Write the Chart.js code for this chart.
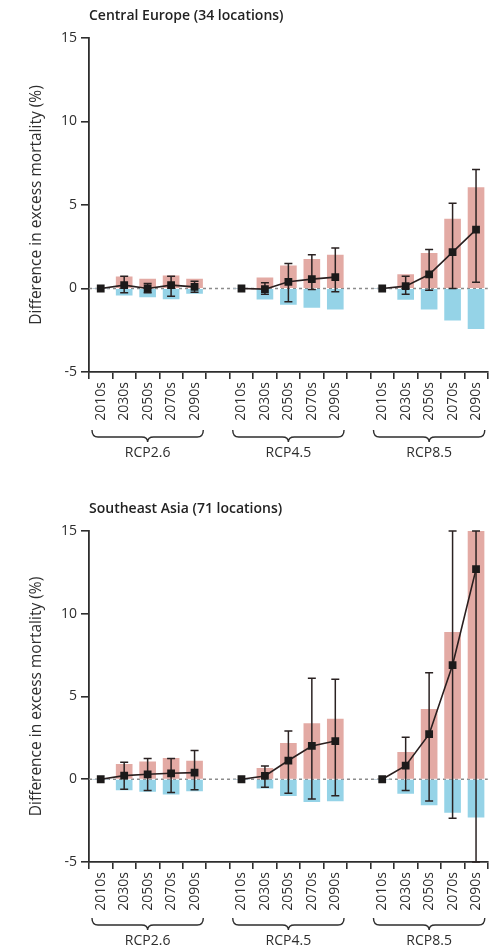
<!DOCTYPE html>
<html>
<head>
<meta charset="utf-8">
<script src="https://cdn.jsdelivr.net/npm/chart.js@4.4.0/dist/chart.umd.min.js"></script>
<style>
    body { margin: 0; background: #fff; width: 496px; height: 948px; overflow: hidden; }
    .panel { position: relative; width: 496px; }
    #p1 { height: 490px; }
    #p2 { height: 458px; }
</style>
</head>
<body>
<div class="panel" id="p1"><canvas id="ce"></canvas></div>
<div class="panel" id="p2"><canvas id="se"></canvas></div>
<script>
// decades shown under each scenario, blank slot between groups
const decades = ['2010s', '2030s', '2050s', '2070s', '2090s'];
const scenarios = ['RCP2.6', 'RCP4.5', 'RCP8.5'];
const yTicks = [-5, 0, 5, 10, 15];

// Central Europe (34 locations): per scenario, one value per decade
const ceMean = [[0, 0.2, 0, 0.2, 0.1], [0, -0.04, 0.4, 0.56, 0.68], [0, 0.14, 0.84, 2.18, 3.53]];
const ceLow  = [[null, -0.26, -0.26, -0.46, -0.22], [null, -0.34, -0.8, -0.06, -0.2], [null, -0.35, -0.1, 0, 0.38]];
const ceHigh = [[null, 0.74, 0.3, 0.74, 0.44], [null, 0.34, 1.5, 2.02, 2.42], [null, 0.73, 2.33, 5.1, 7.12]];
const cePos  = [[0, 0.7, 0.56, 0.76, 0.56], [0, 0.64, 1.36, 1.74, 2.0], [0, 0.84, 2.1, 4.15, 6.05]];
const ceNeg  = [[0, -0.4, -0.5, -0.62, -0.3], [0, -0.64, -0.96, -1.14, -1.24], [0, -0.65, -1.24, -1.9, -2.41]];

// Southeast Asia (71 locations)
const seMean = [[0, 0.22, 0.3, 0.36, 0.4], [0, 0.2, 1.13, 2.01, 2.31], [0, 0.82, 2.72, 6.9, 12.7]];
const seLow  = [[null, -0.6, -0.68, -0.8, -0.64], [null, -0.48, -0.85, -1.19, -0.99], [null, -0.68, -1.31, -2.35, -5]];
const seHigh = [[null, 1.02, 1.26, 1.26, 1.74], [null, 0.8, 2.92, 6.1, 6.04], [null, 2.54, 6.44, 15, 15]];
const sePos  = [[0, 0.9, 1.06, 1.26, 1.1], [0, 0.66, 2.17, 3.36, 3.64], [0, 1.63, 4.23, 8.88, 15]];
const seNeg  = [[0, -0.64, -0.74, -0.9, -0.7], [0, -0.54, -0.99, -1.35, -1.31], [0, -0.85, -1.55, -2.01, -2.29]];

const FONT = '"Open Sans", "DejaVu Sans", sans-serif';
const INK = '#2e2e2e';

// put the three groups side by side with an empty slot between them
const flat = (groups) => {
    const out = [];
    groups.forEach((g, i) => {
        if (i > 0) out.push(null);
        out.push(...g);
    });
    return out;
}
const labels = flat(scenarios.map(() => decades)).map(l => l === null ? '' : l);

const decor = {
    id: 'decor',
    beforeDatasetsDraw(chart) {
        // dashed zero line
        const { ctx, chartArea, scales } = chart;
        const y = scales.y.getPixelForValue(0);
        ctx.save();
        ctx.strokeStyle = '#8c8c8c';
        ctx.lineWidth = 1.5;
        ctx.setLineDash([3, 3]);
        ctx.beginPath();
        ctx.moveTo(chartArea.left, y);
        ctx.lineTo(chartArea.right, y);
        ctx.stroke();
        ctx.restore();
    },
    beforeDatasetDraw(chart, args, opts) {
        // error bars go under the line and its markers
        if (args.index !== 2) return;
        const { ctx, chartArea, scales } = chart;
        const pts = chart.getDatasetMeta(2).data;
        ctx.save();
        ctx.beginPath();
        ctx.rect(chartArea.left, chartArea.top - 1, chartArea.right - chartArea.left, chartArea.bottom - chartArea.top + 2);
        ctx.clip();
        ctx.strokeStyle = '#2a2222';
        ctx.lineWidth = 1.5;
        opts.low.forEach((lo, i) => {
            const hi = opts.high[i];
            if (lo === null || hi === null) return;
            const x = pts[i].x;
            const y0 = scales.y.getPixelForValue(lo);
            const y1 = scales.y.getPixelForValue(hi);
            ctx.beginPath();
            ctx.moveTo(x, y0); ctx.lineTo(x, y1);
            ctx.moveTo(x - 4, y0); ctx.lineTo(x + 4, y0);
            ctx.moveTo(x - 4, y1); ctx.lineTo(x + 4, y1);
            ctx.stroke();
        });
        ctx.restore();
    },
    afterDraw(chart, args, opts) {
        const { ctx, scales } = chart;
        const x = scales.x;
        ctx.save();
        // panel title
        ctx.fillStyle = '#222';
        ctx.font = '600 14px ' + FONT;
        ctx.textAlign = 'left';
        ctx.textBaseline = 'middle';
        ctx.fillText(opts.title, 89, opts.titleY);
        // braces and scenario names
        const slot = x.getPixelForValue(1) - x.getPixelForValue(0);
        ctx.strokeStyle = INK;
        ctx.lineWidth = 1.4;
        scenarios.forEach((name, g) => {
            const x0 = x.getPixelForValue(g * 6) - slot / 2 + 3;
            const x1 = x.getPixelForValue(g * 6 + 4) + slot / 2 - 3;
            const xm = (x0 + x1) / 2;
            const y0 = opts.braceY, h = 7, tip = 5, r = 6;
            ctx.beginPath();
            ctx.moveTo(x0, y0);
            ctx.quadraticCurveTo(x0, y0 + h, x0 + r, y0 + h);
            ctx.lineTo(xm - r, y0 + h);
            ctx.quadraticCurveTo(xm, y0 + h, xm, y0 + h + tip);
            ctx.quadraticCurveTo(xm, y0 + h, xm + r, y0 + h);
            ctx.lineTo(x1 - r, y0 + h);
            ctx.quadraticCurveTo(x1, y0 + h, x1, y0);
            ctx.stroke();
            ctx.fillStyle = INK;
            ctx.font = '14px ' + FONT;
            ctx.textAlign = 'center';
            ctx.fillText(name, xm, opts.braceY + 23);
        });
        ctx.restore();
    }
}

const panel = (id, title, mean, low, high, pos, neg, top, xHeight) => {
    new Chart(document.getElementById(id), {
        type: 'bar',
        data: {
            labels: labels,
            datasets: [{
                label: 'increase',
                data: flat(pos),
                backgroundColor: '#e3aaa4',
                barThickness: 16,
                stack: 'bars',
                order: 3
            }, {
                label: 'decrease',
                data: flat(neg),
                backgroundColor: '#95d3e7',
                barThickness: 16,
                stack: 'bars',
                order: 2
            }, {
                type: 'line',
                label: 'net',
                data: flat(mean),
                stack: 'net',
                borderColor: '#2a1f1f',
                borderWidth: 1.6,
                pointStyle: 'rect',
                pointRadius: 5.5,
                pointBackgroundColor: '#1c1a1a',
                pointBorderColor: '#1c1a1a',
                pointBorderWidth: 0,
                spanGaps: false,
                order: 1
            }]
        },
        options: {
            responsive: true,
            maintainAspectRatio: false,
            animation: false,
            layout: { padding: { top: top, right: 1, bottom: 0, left: 0 } },
            plugins: {
                legend: { display: false },
                tooltip: { enabled: false },
                decor: { title: title, titleY: top - 22, braceY: 430 - (id === 'se' ? 2 : 0), low: flat(low), high: flat(high) }
            },
            scales: {
                x: {
                    stacked: true,
                    afterFit: (s) => { s.height = xHeight; },
                    border: { display: true, color: INK, width: 1.8 },
                    grid: { offset: true, drawOnChartArea: false, tickLength: 7, tickColor: INK, lineWidth: 1.6 },
                    ticks: { autoSkip: false, maxRotation: 90, minRotation: 90, padding: 3, color: INK, font: { family: FONT, size: 14 } }
                },
                y: {
                    stacked: true,
                    min: -5,
                    max: 15,
                    afterFit: (s) => { s.width = 89; },
                    afterBuildTicks: (s) => { s.ticks = yTicks.map(v => ({ value: v })); },
                    border: { display: true, color: INK, width: 1.8 },
                    grid: { drawOnChartArea: false, tickLength: 8, tickColor: INK, lineWidth: 1.6 },
                    ticks: { padding: 4, color: INK, font: { family: FONT, size: 14 } },
                    title: { display: true, text: 'Difference in excess mortality (%)', color: INK, padding: { top: 27, bottom: 0 }, font: { family: FONT, size: 15.5 } }
                }
            }
        },
        plugins: [decor]
    });
}

panel('ce', 'Central Europe (34 locations)', ceMean, ceLow, ceHigh, cePos, ceNeg, 38, 118);
panel('se', 'Southeast Asia (71 locations)', seMean, seLow, seHigh, sePos, seNeg, 41, 86);
</script>
</body>
</html>
